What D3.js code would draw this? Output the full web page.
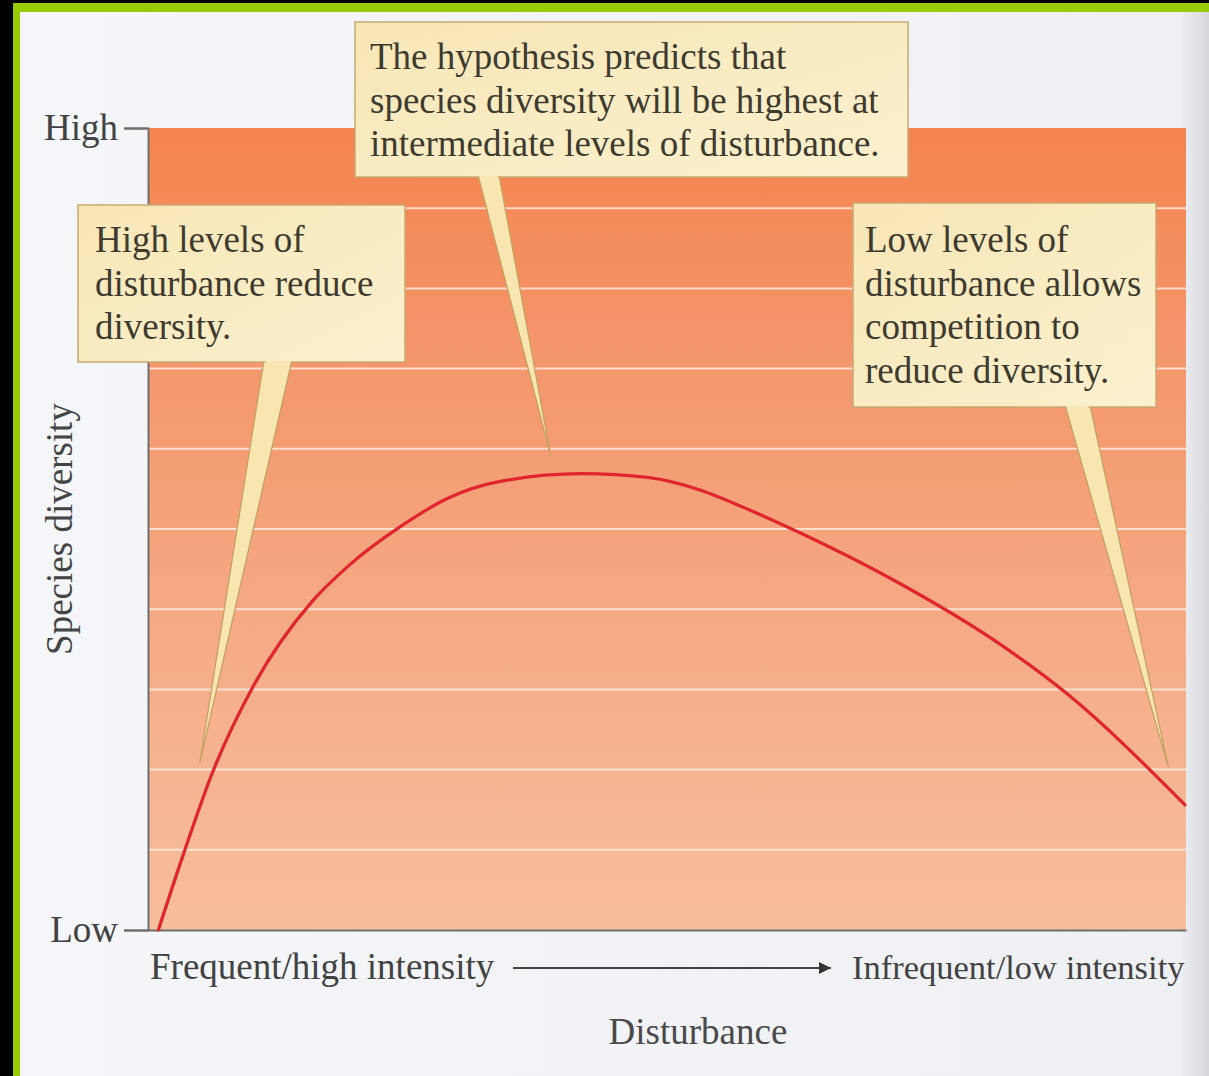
<!DOCTYPE html>
<html>
<head>
<meta charset="utf-8">
<script src="https://cdn.jsdelivr.net/npm/d3@7/dist/d3.min.js"></script>
<style>
  html, body { margin: 0; padding: 0; background: #000; }
  svg { display: block; }
</style>
</head>
<body>
<svg id="chart" width="1209" height="1076"></svg>
<script>
// Disturbance level (0 = frequent/high intensity, 100 = infrequent/low intensity)
const disturbance = [1.0, 3.4, 6.2, 10.1, 15.9, 19.4, 24.2, 29.0, 33.8, 41.8, 48.3, 53.1, 57.9, 62.7, 72.3, 81.9, 88.4, 99.9];
// Species diversity (0 = low, 100 = high)
const diversity   = [0.0, 9.4, 19.6, 30.3, 41.1, 45.5, 50.2, 53.9, 55.9, 56.9, 56.4, 54.9, 52.4, 49.6, 43.3, 35.8, 29.6, 15.6];

const yTickValues = [0, 100];
const yTickLabels = ["Low", "High"];
const stripeValues = [10, 20, 30, 40, 50, 60, 70, 80, 90];

const calloutTexts = [
  ["High levels of", "disturbance reduce", "diversity."],
  ["The hypothesis predicts that", "species diversity will be highest at", "intermediate levels of disturbance."],
  ["Low levels of", "disturbance allows", "competition to", "reduce diversity."]
];
// Point on the curve that each callout refers to (disturbance, diversity)
const calloutTipX = [5.0, 38.8, 98.3];
const calloutTipY = [20.9, 59.1, 20.3];

const W = 1209, H = 1076;
const FS = 37;
const serif = "'Liberation Serif', 'DejaVu Serif', serif";
const svg = d3.select("#chart");
const defs = svg.append("defs");

// ----- page frame -----
svg.append("rect").attr("x", 0).attr("y", 0).attr("width", W).attr("height", H).attr("fill", "#000");
svg.append("rect").attr("x", 13).attr("y", 3).attr("width", W - 13).attr("height", H - 3).attr("fill", "#99cc00");
const pageGrad = defs.append("linearGradient").attr("id", "page").attr("x1", 0).attr("x2", 1).attr("y1", 0).attr("y2", 0);
pageGrad.append("stop").attr("offset", "0").attr("stop-color", "#f4f6f9");
pageGrad.append("stop").attr("offset", "0.975").attr("stop-color", "#eef0f3");
pageGrad.append("stop").attr("offset", "1").attr("stop-color", "#d5d7da");
svg.append("rect").attr("x", 20).attr("y", 12).attr("width", W - 20).attr("height", H - 12).attr("fill", "url(#page)");

// ----- scales -----
const x = d3.scaleLinear().domain([0, 100]).range([148, 1186]);
const y = d3.scaleLinear().domain([0, 100]).range([930, 128]);

// ----- plot background -----
const bg = defs.append("linearGradient").attr("id", "bg").attr("x1", 0).attr("x2", 0).attr("y1", 0).attr("y2", 1);
bg.append("stop").attr("offset", "0").attr("stop-color", "#f4844e");
bg.append("stop").attr("offset", "0.25").attr("stop-color", "#f49469");
bg.append("stop").attr("offset", "0.6").attr("stop-color", "#f5a983");
bg.append("stop").attr("offset", "1").attr("stop-color", "#f7bf9e");
svg.append("rect")
  .attr("x", x(0)).attr("y", y(100))
  .attr("width", x(100) - x(0)).attr("height", y(0) - y(100))
  .attr("fill", "url(#bg)");

svg.append("g").selectAll("line").data(stripeValues).join("line")
  .attr("x1", x(0)).attr("x2", x(100))
  .attr("y1", d => y(d)).attr("y2", d => y(d))
  .attr("stroke", "#fff3ea").attr("stroke-opacity", 0.75).attr("stroke-width", 2);

// ----- axes -----
const axisColor = "#6e6e6e";
const yAxis = svg.append("g")
  .attr("transform", `translate(${x(0)},0)`)
  .call(d3.axisLeft(y).tickValues(yTickValues).tickSize(24).tickPadding(6)
    .tickFormat((d, i) => yTickLabels[i]));
yAxis.select(".domain").attr("stroke", axisColor).attr("stroke-width", 2);
yAxis.selectAll(".tick line").attr("stroke", axisColor).attr("stroke-width", 2);
yAxis.selectAll(".tick text")
  .attr("font-family", serif).attr("font-size", FS).attr("fill", "#424242");

const xAxis = svg.append("g")
  .attr("transform", `translate(0,${y(0)})`)
  .call(d3.axisBottom(x).tickValues([]).tickSizeOuter(0));
xAxis.select(".domain").attr("stroke", axisColor).attr("stroke-width", 2);

// ----- axis titles -----
svg.append("text")
  .attr("transform", `translate(72,${(y(0) + y(100)) / 2}) rotate(-90)`)
  .attr("text-anchor", "middle").attr("font-family", serif).attr("font-size", FS).attr("fill", "#444")
  .text("Species diversity");

svg.append("text").attr("x", 150).attr("y", 979)
  .attr("font-family", serif).attr("font-size", FS).attr("fill", "#424242")
  .text("Frequent/high intensity");
svg.append("text").attr("x", 852).attr("y", 979)
  .attr("font-family", serif).attr("font-size", 34.5).attr("fill", "#424242")
  .text("Infrequent/low intensity");
svg.append("text").attr("x", 698).attr("y", 1044).attr("text-anchor", "middle")
  .attr("font-family", serif).attr("font-size", FS).attr("fill", "#4a4a4a")
  .text("Disturbance");

// arrow between the end labels
defs.append("marker").attr("id", "arrow").attr("viewBox", "0 0 10 10")
  .attr("refX", 10).attr("refY", 5).attr("markerWidth", 20).attr("markerHeight", 12)
  .attr("markerUnits", "userSpaceOnUse").attr("orient", "auto")
  .append("path").attr("d", "M0,0 L10,5 L0,10 Z").attr("fill", "#333");
svg.append("line").attr("x1", 513).attr("x2", 831).attr("y1", 968).attr("y2", 968)
  .attr("stroke", "#444").attr("stroke-width", 2).attr("marker-end", "url(#arrow)");

// ----- diversity curve -----
const pts = disturbance.map((d, i) => [d, diversity[i]]);
svg.append("path").datum(pts)
  .attr("d", d3.line().x(d => x(d[0])).y(d => y(d[1])).curve(d3.curveMonotoneX))
  .attr("fill", "none").attr("stroke", "#e0262c").attr("stroke-width", 3.2)
  .attr("stroke-linecap", "round");

// ----- callouts -----
const boxes = [
  { x: 78,  y: 205, w: 327, h: 157, tx: 95,  ty: 252, tail: [264, 292] },
  { x: 355, y: 22,  w: 553, h: 155, tx: 370, ty: 69,  tail: [478, 499] },
  { x: 853, y: 203, w: 303, h: 204, tx: 865, ty: 252, tail: [1065, 1090] }
];
const boxGrad = defs.append("linearGradient").attr("id", "box").attr("x1", 0).attr("x2", 1).attr("y1", 0).attr("y2", 1);
boxGrad.append("stop").attr("offset", "0").attr("stop-color", "#f7e6b6");
boxGrad.append("stop").attr("offset", "1").attr("stop-color", "#fbf1cf");

const callouts = svg.append("g");
boxes.forEach((b, i) => {
  const g = callouts.append("g");
  const tipX = x(calloutTipX[i]), tipY = y(calloutTipY[i]);
  const by = b.y + b.h;
  // tail
  g.append("path")
    .attr("d", `M${b.tail[0]},${by - 2} L${tipX},${tipY} L${b.tail[1]},${by - 2} Z`)
    .attr("fill", "#f8e6b0").attr("stroke", "#c7a062").attr("stroke-width", 1.3)
    .attr("stroke-linejoin", "round");
  // box
  g.append("rect").attr("x", b.x).attr("y", b.y).attr("width", b.w).attr("height", b.h)
    .attr("fill", "url(#box)").attr("stroke", "#c9a870").attr("stroke-width", 1.5);
  // cover the join between tail and box
  g.append("line").attr("x1", b.tail[0] + 1.5).attr("x2", b.tail[1] - 1.5)
    .attr("y1", by).attr("y2", by).attr("stroke", "#f8e8b8").attr("stroke-width", 2.5);
  g.append("text")
    .attr("font-family", serif).attr("font-size", FS).attr("fill", "#3d3a30")
    .selectAll("tspan").data(calloutTexts[i]).join("tspan")
    .attr("x", b.tx).attr("y", (d, j) => b.ty + j * 43.5)
    .text(d => d);
});
</script>
</body>
</html>
